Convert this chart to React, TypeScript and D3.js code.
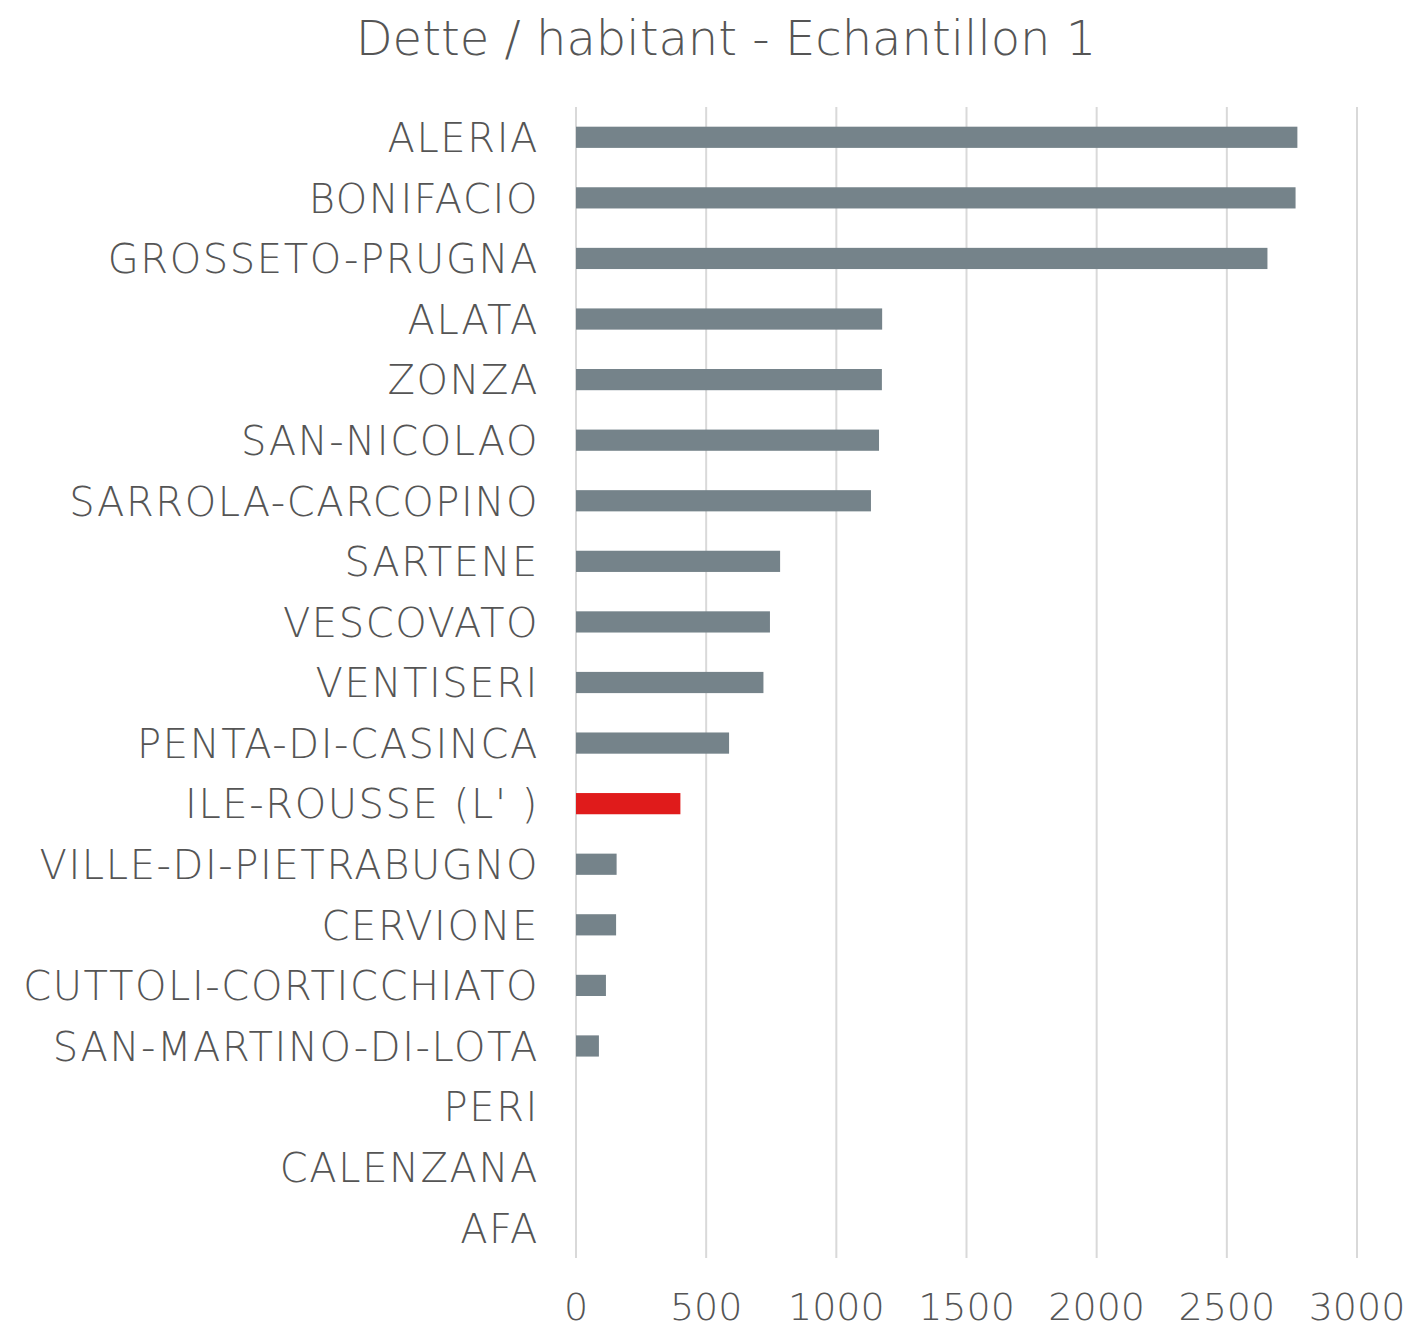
import * as d3 from 'd3'

const communes = [
  'ALERIA',
  'BONIFACIO',
  'GROSSETO-PRUGNA',
  'ALATA',
  'ZONZA',
  'SAN-NICOLAO',
  'SARROLA-CARCOPINO',
  'SARTENE',
  'VESCOVATO',
  'VENTISERI',
  'PENTA-DI-CASINCA',
  "ILE-ROUSSE (L' )",
  'VILLE-DI-PIETRABUGNO',
  'CERVIONE',
  'CUTTOLI-CORTICCHIATO',
  'SAN-MARTINO-DI-LOTA',
  'PERI',
  'CALENZANA',
  'AFA',
]
const dette = [2771, 2764, 2656, 1176, 1175, 1164, 1133, 784, 745, 720, 588, 401, 156, 154, 115, 88, 0, 0, 0]
const highlighted = ["ILE-ROUSSE (L' )"]
const ticks = [0, 500, 1000, 1500, 2000, 2500, 3000]

const W = 1414
const H = 1329
const margin = {top: 107, right: 57, bottom: 71, left: 576}
const font = "'DejaVu Sans', sans-serif"

export default function App() {
  const x = d3.scaleLinear().domain([0, 3000]).range([margin.left, W - margin.right])
  const y = d3
    .scaleBand<string>()
    .domain(communes)
    .range([margin.top, H - margin.bottom])
    .paddingInner(0.65)
    .paddingOuter(0.325)
  const data = communes.map((c, i) => ({label: c, value: dette[i]}))

  return (
    <svg width={W} height={H} style={{position: 'absolute', left: 0, top: 0, background: '#fff'}}>
      <text x={726} y={55} textAnchor="middle" fontFamily={font} fontWeight={200} fontSize={48} fill="#555">
        Dette / habitant - Echantillon 1
      </text>
      {ticks.map(t => (
        <g key={t}>
          <line x1={x(t)} x2={x(t)} y1={margin.top} y2={H - margin.bottom} stroke="#d9d9d9" strokeWidth={2} />
          <text x={x(t)} y={1320} textAnchor="middle" fontFamily={font} fontWeight={200} fontSize={38} fill="#555">
            {t}
          </text>
        </g>
      ))}
      {data.map(d => (
        <g key={d.label}>
          <rect
            x={x(0)}
            y={y(d.label)}
            width={x(d.value) - x(0)}
            height={y.bandwidth()}
            fill={highlighted.includes(d.label) ? '#e01b1b' : '#75838a'}
          />
          <text
            x={539}
            y={(y(d.label) || 0) + y.bandwidth() / 2}
            dy="0.37em"
            textAnchor="end"
            fontFamily={font}
            fontWeight={200}
            fontSize={40}
            letterSpacing={1.6}
            fill="#555"
          >
            {d.label}
          </text>
        </g>
      ))}
    </svg>
  )
}
